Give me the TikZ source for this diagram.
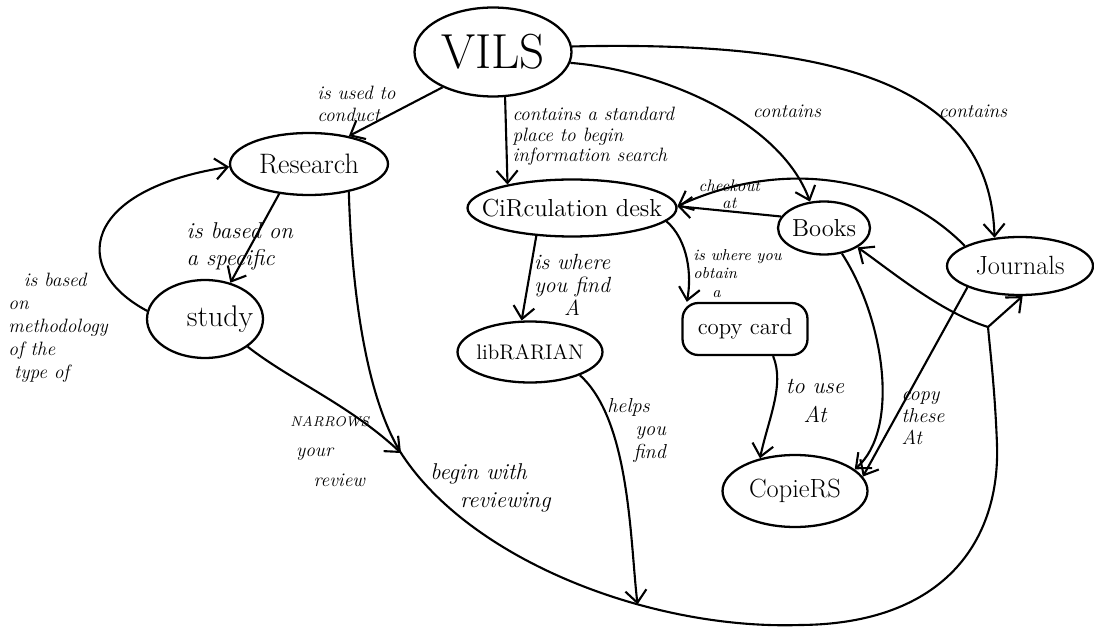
\documentclass[tikz,border=0pt]{standalone}
\usepackage{tikz}
\usetikzlibrary{shapes.geometric,arrows.meta}
\newcommand{\inblob}[1]{\makebox[0pt]{#1}}

\begin{document}
\begin{tikzpicture}[x=0.02cm,y=-0.02cm,
  blob/.style={draw,ellipse,line width=1.3pt,inner sep=0pt},
  arr/.style={-{Straight Barb[length=7pt,width=12pt]},line width=1.2pt},
  lbl/.style={font=\fontsize{11}{12}\selectfont\itshape,align=left,inner sep=0pt}]
\useasboundingbox (0,0) rectangle (1094,631);
% concepts
\node[blob,minimum width=3.14cm,minimum height=1.78cm,font=\fontsize{28}{30}\selectfont] (vils) at (493,52) {\inblob{VILS}};
\node[blob,minimum width=3.16cm,minimum height=1.24cm,font=\fontsize{16}{18}\selectfont] (research) at (309,164) {\inblob{Research}};
\node[blob,minimum width=2.32cm,minimum height=1.56cm,font=\fontsize{17}{18}\selectfont] (study) at (205,319) {\inblob{\hspace{1em}study}};
\node[blob,minimum width=4.18cm,minimum height=1.14cm,font=\fontsize{14}{16}\selectfont] (circ) at (572,208) {\inblob{CiRculation desk}};
\node[blob,minimum width=1.84cm,minimum height=1.06cm,font=\fontsize{14}{16}\selectfont] (books) at (824,228) {\inblob{Books}};
\node[blob,minimum width=2.92cm,minimum height=1.16cm,font=\fontsize{15}{16}\selectfont] (journals) at (1020,266) {\inblob{Journals}};
\node[blob,minimum width=2.9cm,minimum height=1.22cm,font=\fontsize{12}{14}\selectfont] (librarian) at (530,352) {\inblob{libRARIAN}};
\node[draw,rectangle,rounded corners=9pt,line width=1.3pt,minimum width=2.5cm,minimum height=1.04cm,font=\fontsize{13}{14}\selectfont] (copycard) at (745,329) {copy card};
\node[blob,minimum width=2.9cm,minimum height=1.44cm,font=\fontsize{15}{16}\selectfont] (copiers) at (795,491) {\inblob{CopieRS}};

% links from VILS
\draw[arr] (vils.215) -- node[lbl,pos=0.34,left=8pt] (usedto) {is used to\\conduct} (research.35);
\draw[arr] (vils.285) -- node[lbl,pos=0.45,right=3pt,font=\fontsize{11}{11.5}\selectfont\itshape] (standard) {contains a standard\\place to begin\\information search} (circ.160);
\draw[arr] (vils.-8) .. controls (660,70) and (780,120) .. (books.118);
\draw[arr] (vils.4) .. controls (850,40) and (990,90) .. (journals.132);
\node[lbl] (containsb) at (787,111) {contains};
\node[lbl] (containsj) at (973,111) {contains};

% research and study
\draw[arr] (research.225) -- node[lbl,pos=0.59,xshift=-6pt,font=\fontsize{13}{15}\selectfont\itshape] (basedon) {is based on\\a specific} (study.55);
\draw[arr] (study.172) .. controls (70,270) and (80,190) .. (research.182);
\node[lbl,anchor=north west,font=\fontsize{11}{13}\selectfont\itshape] (methodology) at (8,273) {\hspace{0.8em}is based\\on\\methodology\\of the\\\hspace{0.3em}type of};

% the long line round the bottom
\draw[line width=1.2pt] (research.-35) .. controls (352,300) and (368,400) .. (401,453) coordinate (meet)
  .. controls (470,560) and (650,630) .. (800,625) coordinate[pos=0.65] (land)
  .. controls (945,624) and (1000,540) .. (997,445)
  .. controls (995,390) and (990,350) .. (988,327) coordinate (fork);
\node[lbl,anchor=north west,font=\fontsize{13}{16}\selectfont\itshape] (reviewing) at (430,463) {begin with\\\hspace{1.3em}reviewing};
\draw[arr] (fork) .. controls (940,312) and (890,270) .. (books.-30);
\draw[arr] (fork) -- (journals.-85);
\draw[arr] (study.-33) .. controls (290,380) and (350,405) .. (meet);
\node[lbl,anchor=north west,font=\fontsize{11}{17}\selectfont\itshape] (narrows) at (290,416) {{\fontsize{8}{8}\selectfont NARROWS}\\\hspace{0.3em}your\\\hspace{1.2em}review};
\draw[arr] (librarian.-25) .. controls (630,420) and (630,540) .. (land);
\node[lbl,anchor=north west,font=\fontsize{11.5}{13}\selectfont\itshape] (helps) at (607,398) {helps\\\hspace{1.4em}you\\\hspace{1.3em}find};

% circulation desk
\draw[arr] (circ.218) -- node[lbl,pos=0.577,right=3pt,align=center,font=\fontsize{12.5}{13}\selectfont\itshape] (findA) {is where\\you find\\A} (librarian.105);
\draw[arr] (circ.-8) .. controls (688,240) and (692,275) .. (copycard.155);
\node[lbl,anchor=north west,font=\fontsize{9}{10.5}\selectfont\itshape] (obtain) at (693,249) {is where you\\obtain\\\hspace{1.2em}a};
\draw[arr] (books.165) -- node[lbl,midway,above=1pt,align=center,font=\fontsize{9.5}{9.5}\selectfont\itshape] (checkout) {checkout\\at} (circ.1);
\draw[arr] (journals.160) .. controls (900,180) and (790,155) .. (circ.1);

% copiers
\draw[arr] (copycard.-44) .. controls (785,385) and (768,420) .. (copiers.137);
\node[lbl,align=center,font=\fontsize{13}{17}\selectfont\itshape] (touse) at (815,401) {to use\\At};
\draw[arr] (books.-55) .. controls (885,320) and (900,430) .. (copiers.20);
\draw[arr] (journals.202) -- node[lbl,pos=0.69,right=3pt,font=\fontsize{11.5}{12.5}\selectfont\itshape] (copythese) {copy\\these\\At} (copiers.12);
\end{tikzpicture}
\end{document}
